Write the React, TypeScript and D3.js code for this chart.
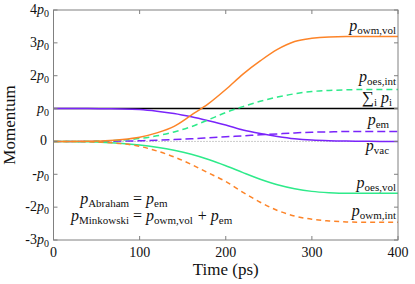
import React from 'react';
import * as d3 from 'd3';

// time samples (ps)
const times = [0, 20, 40, 60, 80, 100, 120, 140, 160, 180, 200, 220, 240, 260, 280, 300, 320, 340, 360, 380, 400];

// momentum in units of p0
const owmVol = [0, 0, 0.005, 0.02, 0.06, 0.13, 0.26, 0.46, 0.8, 1.15, 1.58, 2.05, 2.45, 2.8, 3.04, 3.14, 3.18, 3.19, 3.19, 3.19, 3.19];
const oesInt = [0, 0, 0.005, 0.015, 0.04, 0.09, 0.17, 0.29, 0.45, 0.66, 0.88, 1.06, 1.22, 1.35, 1.45, 1.52, 1.55, 1.57, 1.58, 1.58, 1.58];
const vac = [1, 1, 1, 0.995, 0.99, 0.97, 0.92, 0.85, 0.75, 0.63, 0.5, 0.35, 0.24, 0.15, 0.08, 0.04, 0.02, 0.01, 0.005, 0, 0];
const em = [0, 0, 0, 0.005, 0.01, 0.02, 0.035, 0.055, 0.08, 0.11, 0.14, 0.17, 0.2, 0.23, 0.26, 0.28, 0.29, 0.3, 0.3, 0.3, 0.3];
const oesVol = [0, 0, -0.01, -0.03, -0.06, -0.11, -0.18, -0.27, -0.39, -0.55, -0.74, -0.95, -1.15, -1.32, -1.44, -1.52, -1.56, -1.58, -1.58, -1.58, -1.58];
const owmInt = [0, 0, -0.01, -0.03, -0.07, -0.15, -0.29, -0.47, -0.7, -0.96, -1.22, -1.55, -1.85, -2.1, -2.27, -2.37, -2.42, -2.45, -2.46, -2.46, -2.46];
const total = times.map(() => 1);

const xTicks = [0, 100, 200, 300, 400];
const yTicks = [-3, -2, -1, 0, 1, 2, 3, 4];

const PURPLE = '#7a24fa';
const GREEN = '#2eea8a';
const ORANGE = '#fd8428';
const FONT = 'Liberation Serif';

const series = [
  { values: vac, color: PURPLE, dash: null },
  { values: em, color: PURPLE, dash: '8,4' },
  { values: oesInt, color: GREEN, dash: '6,4' },
  { values: oesVol, color: GREEN, dash: null },
  { values: owmInt, color: ORANGE, dash: '5,4' },
  { values: owmVol, color: ORANGE, dash: null },
];

// italic p with an upright subscript
function P({ sub, size = 16, subSize = 11 }) {
  return (
    <>
      <tspan fontStyle="italic" fontSize={size}>p</tspan>
      <tspan fontSize={subSize} dy={3}>{sub}</tspan>
      <tspan dy={-3} fontSize={subSize}>{'\u200a'}</tspan>
    </>
  );
}

function T(props) {
  return <text fontFamily={FONT} fill="#111" {...props} />;
}

export default function App() {
  const W = 415, H = 284;
  const left = 53.5, right = 398, top = 10, bottom = 240;

  const x = d3.scaleLinear().domain([0, 400]).range([left, right]);
  const y = d3.scaleLinear().domain([-3, 4]).range([bottom, top]);

  const line = d3.line<number>()
    .x((_, i) => x(times[i]))
    .y(d => y(d))
    .curve(d3.curveMonotoneX);

  const yLabel = (v: number) => {
    if (v === 0) return <tspan>0</tspan>;
    const coef = v === 1 ? '' : v === -1 ? '-' : String(v);
    return (
      <>
        <tspan>{coef}</tspan>
        <tspan fontStyle="italic">p</tspan>
        <tspan fontSize={10} dy={3}>0</tspan>
      </>
    );
  };

  const axisColor = '#808080';

  return (
    <svg width={W} height={H} style={{ position: 'absolute', left: 0, top: 0, background: '#fff' }}>
      {/* reference lines */}
      <line x1={left} x2={right} y1={y(0)} y2={y(0)} stroke="#999" strokeWidth={1} strokeDasharray="1,2" />
      <path d={line(total)} fill="none" stroke="#000" strokeWidth={1.6} />

      {series.map((s, i) => (
        <path key={i} d={line(s.values)} fill="none" stroke={s.color} strokeWidth={1.5}
          strokeDasharray={s.dash || undefined} />
      ))}

      {/* frame and ticks */}
      <rect x={left} y={top} width={right - left} height={bottom - top} fill="none" stroke={axisColor} strokeWidth={1} />
      {xTicks.map(t => (
        <g key={'x' + t}>
          <line x1={x(t)} x2={x(t)} y1={bottom} y2={bottom - 4} stroke={axisColor} />
          <line x1={x(t)} x2={x(t)} y1={top} y2={top + 4} stroke={axisColor} />
          <T x={x(t)} y={257} textAnchor="middle" fontSize={14}>{t}</T>
        </g>
      ))}
      {yTicks.map(t => (
        <g key={'y' + t}>
          <line x1={left} x2={left + 4} y1={y(t)} y2={y(t)} stroke={axisColor} />
          <line x1={right} x2={right - 4} y1={y(t)} y2={y(t)} stroke={axisColor} />
          <T x={t === 0 ? 47 : 49} y={y(t) + 4} textAnchor="end" fontSize={14}>{yLabel(t)}</T>
        </g>
      ))}

      <T x={(left + right) / 2} y={275} textAnchor="middle" fontSize={17}>Time (ps)</T>
      <T transform={`translate(15,${(top + bottom) / 2}) rotate(-90)`} textAnchor="middle" fontSize={17}>Momentum</T>

      {/* curve labels */}
      <T x={397} y={31} textAnchor="end"><P sub="owm,vol" /></T>
      <T x={397} y={82} textAnchor="end"><P sub="oes,int" /></T>
      <T x={392} y={103} textAnchor="end">
        <tspan fontSize={17}>{'\u2211'}</tspan>
        <tspan fontSize={11} dy={3}>i</tspan>
        <tspan fontSize={16} dy={-3} fontStyle="italic"> p</tspan>
        <tspan fontSize={11} dy={3}>i</tspan>
      </T>
      <T x={390} y={125} textAnchor="end"><P sub="em" /></T>
      <T x={390} y={151} textAnchor="end"><P sub="vac" /></T>
      <T x={397} y={188} textAnchor="end"><P sub="oes,vol" /></T>
      <T x={397} y={216} textAnchor="end"><P sub="owm,int" /></T>

      {/* relations */}
      <T x={130} y={204} textAnchor="end"><P sub="Abraham" /></T>
      <T x={133} y={204} fontSize={16}>= <P sub="em" /></T>
      <T x={130} y={221} textAnchor="end"><P sub="Minkowski" /></T>
      <T x={133} y={221} fontSize={16}>= <P sub="owm,vol" /> + <P sub="em" /></T>
    </svg>
  );
}
